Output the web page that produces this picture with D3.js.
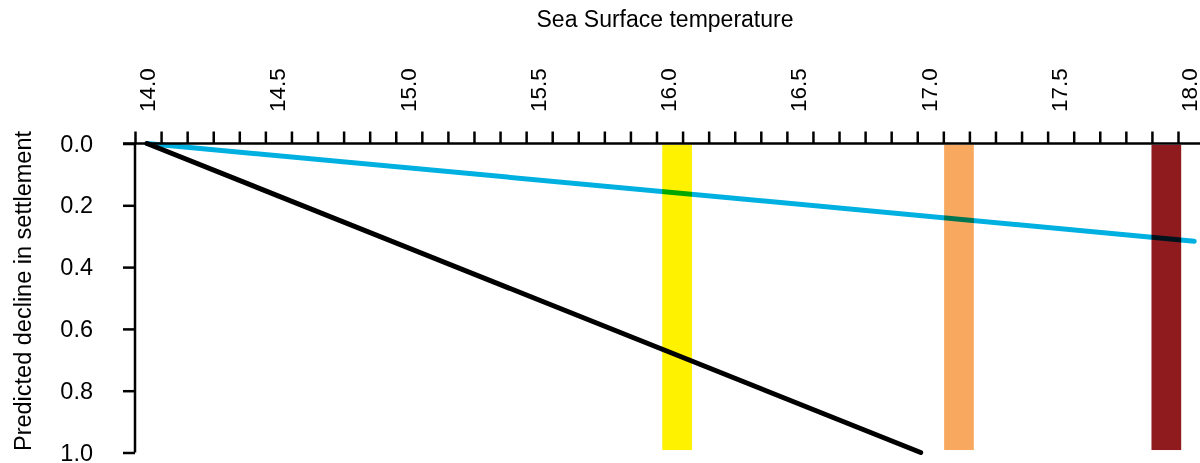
<!DOCTYPE html>
<html>
<head>
<meta charset="utf-8">
<script src="https://cdn.jsdelivr.net/npm/d3@7"></script>
<style>
  html, body { margin: 0; padding: 0; background: #fff; }
  svg { display: block; font-family: "Liberation Sans", Arial, sans-serif; }
</style>
</head>
<body>
<svg id="chart" width="1200" height="463"></svg>
<script>
// ---- data ----
const xTitle = "Sea Surface temperature";
const yTitle = "Predicted decline in settlement";
const xTickLabels = [14.0, 14.5, 15.0, 15.5, 16.0, 16.5, 17.0, 17.5, 18.0];
const xMinorTicks = d3.range(0, 41).map(i => 14 + i * 0.1);
const yTickLabels = [0.0, 0.2, 0.4, 0.6, 0.8, 1.0];

// lines: [temperature, decline]
const blackLine = [[14.0, 0.0], [16.97, 1.0]];
const blueLine = [[14.0, 0.0], [18.02, 0.316]];

// vertical bands: centre temperature, half width
const bandCenters = [16.035, 17.117, 17.913];
const bandHalfWidth = 0.057;
const bandColors = ["#fff200", "#f9a95f", "#8f1b1f"];
const bandTop = 0.004;
const bandBottom = 0.992;

// ---- layout ----
const svg = d3.select("#chart");
const W = 1200;
const x = d3.scaleLinear().domain([14, 18]).range([147, 1189]);
const xTick = d3.scaleLinear().domain([14, 18]).range([135, 1178]);
const y = d3.scaleLinear().domain([0, 1]).range([143.5, 452.5]);

// bands
svg.append("g").selectAll("rect").data(bandCenters).join("rect")
  .attr("x", d => x(d - bandHalfWidth))
  .attr("width", d => x(d + bandHalfWidth) - x(d - bandHalfWidth))
  .attr("y", y(bandTop))
  .attr("height", y(bandBottom) - y(bandTop))
  .attr("fill", (d, i) => bandColors[i]);

// lines
const line = d3.line().x(d => x(d[0])).y(d => y(d[1]));
svg.append("path").datum(blueLine)
  .attr("d", line).attr("fill", "none")
  .attr("stroke", "#00b0e0").attr("stroke-width", 5)
  .attr("stroke-linecap", "round")
  .style("mix-blend-mode", "multiply");
svg.append("path").datum(blackLine)
  .attr("d", line).attr("fill", "none")
  .attr("stroke", "#000").attr("stroke-width", 5)
  .attr("stroke-linecap", "round")
  .style("mix-blend-mode", "multiply");

// x axis (top) - minor ticks
const gx = svg.append("g").attr("transform", `translate(0,${y(0)})`);
gx.call(d3.axisTop(xTick).tickValues(xMinorTicks).tickSize(12).tickFormat(""))
  .call(g => g.select(".domain").remove());
gx.selectAll(".tick line").attr("stroke", "#000").attr("stroke-width", 2.5);
gx.append("line")
  .attr("x1", xTick(14) - 12).attr("x2", W)
  .attr("stroke", "#000").attr("stroke-width", 2.5);

// x tick labels (rotated)
svg.append("g").selectAll("text").data(xTickLabels).join("text")
  .attr("transform", d => `translate(${x(d)},112) rotate(-90)`)
  .attr("dy", "0.36em")
  .attr("text-anchor", "start")
  .attr("font-size", 22.5)
  .attr("fill", "#000")
  .text(d => d3.format(".1f")(d));

// y axis
const gy = svg.append("g").attr("transform", `translate(${xTick(14)},0)`);
gy.call(d3.axisLeft(y).tickValues(yTickLabels).tickSize(12).tickPadding(30)
    .tickFormat(d3.format(".1f")))
  .call(g => g.select(".domain").attr("stroke-width", 2.5).attr("d", `M0,${y(0)}V${y(1)}`));
gy.selectAll(".tick line").attr("stroke", "#000").attr("stroke-width", 2.5);
gy.selectAll(".tick text").attr("font-size", 23.5).attr("fill", "#000")
  .attr("font-family", "Liberation Sans, Arial, sans-serif");

// titles
svg.append("text")
  .attr("x", 665).attr("y", 27)
  .attr("text-anchor", "middle").attr("font-size", 23)
  .text(xTitle);
svg.append("text")
  .attr("transform", `translate(31,291) rotate(-90)`)
  .attr("text-anchor", "middle").attr("font-size", 23.5)
  .text(yTitle);
</script>
</body>
</html>
